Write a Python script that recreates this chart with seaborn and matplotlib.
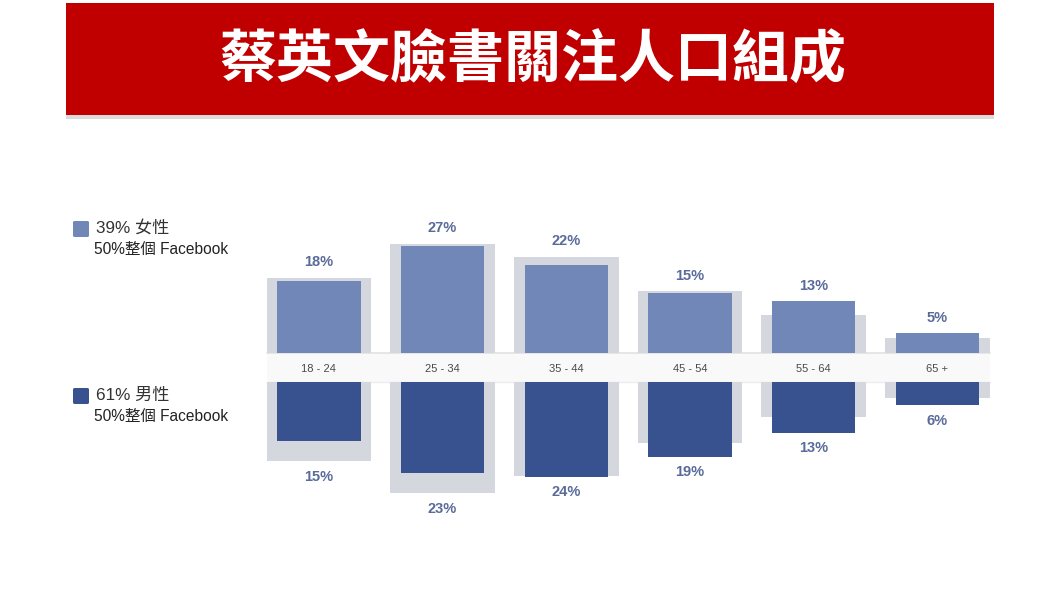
import matplotlib
matplotlib.use("Agg")
import matplotlib.pyplot as plt
from matplotlib.patches import Rectangle, FancyBboxPatch
import seaborn as sns
import pandas as pd

# ---------------- data ----------------
age_groups = ["18 - 24", "25 - 34", "35 - 44", "45 - 54", "55 - 64", "65 +"]
female_pct = [18, 27, 22, 15, 13, 5]
male_pct = [15, 23, 24, 19, 13, 6]
fb_female_pct = [18.9, 27.5, 24.2, 15.6, 9.5, 3.7]   # whole-Facebook reference (grey)
fb_male_pct = [20.1, 28.2, 23.9, 15.4, 8.9, 4.2]
female_total = 39
male_total = 61
fb_share = 50
title = "蔡英文臉書關注人口組成"

# ---------------- style ----------------
LIGHT = "#7087b8"
DARK = "#38528f"
GREY = "#d5d7de"
LABEL = "#5a6b9b"
RED = "#c00000"

sns.set_style("white")
plt.rcParams["font.family"] = ["Liberation Sans", "Noto Sans CJK TC", "DejaVu Sans"]

W, H = 1060, 596
fig = plt.figure(figsize=(W / 100, H / 100), dpi=100)
fig.patch.set_facecolor("white")


def fx(px):
    return px / W


def fy(py):
    return 1 - py / H


S = 3.96  # px per percent
X0, X1 = 267, 990
up_top, up_bot = 190, 352.6
lo_top, lo_bot = 381.7, 540

axU = fig.add_axes([fx(X0), fy(up_bot), fx(X1) - fx(X0), (up_bot - up_top) / H])
axL = fig.add_axes([fx(X0), fy(lo_bot), fx(X1) - fx(X0), (lo_bot - lo_top) / H])

dfF = pd.DataFrame({"age": age_groups, "v": female_pct, "fb": fb_female_pct})
dfM = pd.DataFrame({"age": age_groups, "v": male_pct, "fb": fb_male_pct})

for ax, df, col in [(axU, dfF, LIGHT), (axL, dfM, DARK)]:
    sns.barplot(data=df, x="age", y="fb", color=GREY, width=0.845, saturation=1,
                errorbar=None, ax=ax, order=age_groups, linewidth=0, edgecolor="none")
    sns.barplot(data=df, x="age", y="v", color=col, width=0.675, saturation=1,
                errorbar=None, ax=ax, order=age_groups, linewidth=0, edgecolor="none")
    ax.set_facecolor("none")
    for s in ax.spines.values():
        s.set_visible(False)
    ax.set_xlabel("")
    ax.set_ylabel("")
    ax.set_yticks([])
    ax.set_xlim((X0 - 318.9) / 123.68, (X1 - 318.9) / 123.68)

axU.set_ylim(0, (up_bot - up_top) / S)
axL.set_ylim((lo_bot - lo_top) / S, 0)
axU.tick_params(axis="x", length=0, pad=8.5, labelsize=8, labelcolor="#4a4a4a")
axL.set_xticks([])
axU.set_zorder(3)
axL.set_zorder(3)

# value labels
for i, (v, fb) in enumerate(zip(female_pct, fb_female_pct)):
    axU.annotate(f"{v}%", (i, max(v, fb)), xytext=(0, 11), textcoords="offset points",
                 ha="center", va="center", fontsize=10.5, fontweight="bold", color=LABEL)
for i, (v, fb) in enumerate(zip(male_pct, fb_male_pct)):
    axL.annotate(f"{v}%", (i, max(v, fb)), xytext=(0, -11), textcoords="offset points",
                 ha="center", va="center", fontsize=10.5, fontweight="bold", color=LABEL)

# axis band
band = Rectangle((fx(X0), fy(lo_top)), fx(X1) - fx(X0), (lo_top - up_bot) / H,
                 transform=fig.transFigure, facecolor="#f9f9f9", edgecolor="none", zorder=1)
fig.patches.append(band)
fig.add_artist(plt.Line2D([fx(X0), fx(X1)], [fy(up_bot), fy(up_bot)], color="#e2e2e2", lw=1.2, zorder=2))
fig.add_artist(plt.Line2D([fx(X0), fx(X1)], [fy(lo_top), fy(lo_top)], color="#ececec", lw=1.0, zorder=2))

# title banner
fig.patches.append(Rectangle((fx(66), fy(119)), fx(994) - fx(66), 4 / H, transform=fig.transFigure,
                             facecolor="#dcdcdc", edgecolor="none", zorder=1))
fig.patches.append(Rectangle((fx(66), fy(115)), fx(994) - fx(66), (115 - 3) / H, transform=fig.transFigure,
                             facecolor=RED, edgecolor="none", zorder=2))
fig.text(fx(533), fy(61), title, ha="center", va="center", color="white", fontsize=41,
         fontweight="bold", family=["Noto Sans CJK TC", "DejaVu Sans"])

# legend
for (ytop, col, total, name) in [(221, LIGHT, female_total, "女性"), (388, DARK, male_total, "男性")]:
    fig.patches.append(FancyBboxPatch((fx(73), fy(ytop + 16)), 16 / W, 16 / H, transform=fig.transFigure,
                                      boxstyle="round,pad=0,rounding_size=0.002", facecolor=col,
                                      edgecolor="none", zorder=2))
    fig.text(fx(96), fy(ytop + 7), f"{total}% {name}", ha="left", va="center", fontsize=12.3, color="#333333")
    fig.text(fx(94), fy(ytop + 28), f"{fb_share}%整個 Facebook", ha="left", va="center", fontsize=11.2,
             color="#222222")

fig.savefig("out.png", dpi=100)
